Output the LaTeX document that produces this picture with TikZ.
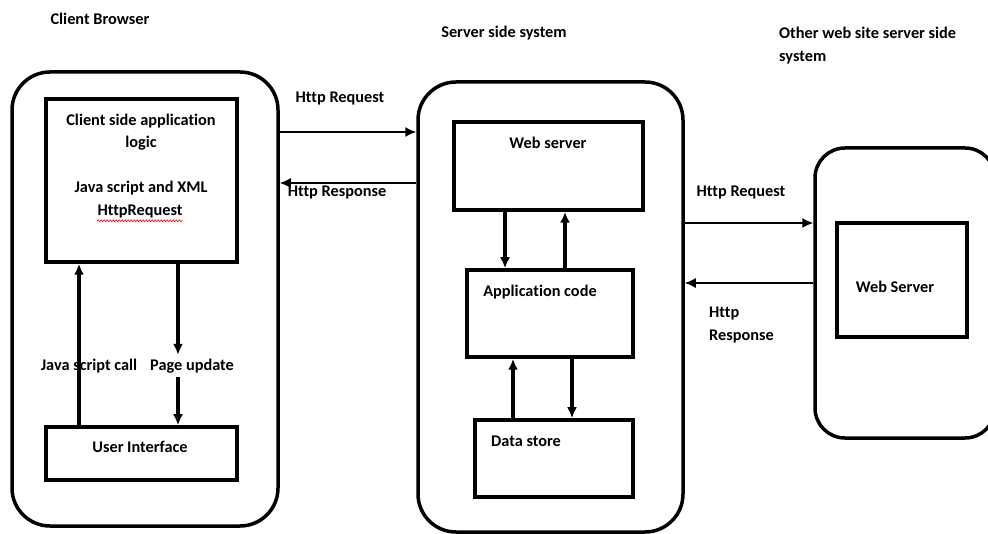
\documentclass[tikz,border=0pt]{standalone}
\usepackage{fontspec}
\setmainfont{Carlito}[Ligatures=CommonOff]
\usepackage{tikz}
\usetikzlibrary{arrows.meta,decorations.pathmorphing}
\tikzstyle{container} = [draw, rectangle, rounded corners=38pt, line width=3.5pt, inner sep=0pt]
\tikzstyle{block} = [draw, fill=white, rectangle, line width=3.5pt, inner sep=0pt]
\tikzstyle{txt} = [inner sep=0pt, align=center, yshift=-1.5pt, font=\fontsize{16.3}{22.5}\selectfont\bfseries]
\tikzstyle{link} = [->, line width=3.5pt]
\tikzstyle{msg} = [->, line width=1.5pt]
\tikzstyle{spell} = [red, line width=0.6pt, decorate, decoration={snake, amplitude=0.9pt, segment length=3pt}]

\begin{document}
\begin{tikzpicture}[x=1pt, y=-1pt, >={Latex[length=11pt,width=10pt]}]
\useasboundingbox (0,0) rectangle (988,534);
% Titles
	\node [txt, anchor=base] (tClient) at (100,23) {Client Browser};
	\node [txt, anchor=base] (tServer) at (504,36) {Server side system};
	\node [txt, anchor=base west, align=left] (tOther) at (779,60) {Other web site server side\\system};
% Client browser
	\node [container, minimum width=266pt, minimum height=454pt] (CB) at (145,299) {};
	\node [block, minimum width=191pt, minimum height=163pt] (L) at (141.5,180.5) {};
	\node [txt, anchor=base] (Ltext) at (141,191) {Client side application\\logic\\[22pt]Java script and XML};
	\node [txt, anchor=base] (hr) at (140,214) {HttpRequest};
	\draw [spell] ([yshift=-2.5pt]hr.south west) -- ([yshift=-2.5pt]hr.south east);
	\node [block, minimum width=191pt, minimum height=53pt] (UI) at (141.5,453.5) {};
	\node [txt, anchor=base] (UItext) at (140,451) {User Interface};
	\node [txt, anchor=base] (jsc) at (89,369) {Java script call};
	\node [txt, anchor=base, inner sep=4pt] (pu) at (192,369) {Page update};
	\draw [link] ([xshift=-62.5pt]UI.north) -- ([xshift=-62.5pt]UI.north |- L.south);
	\draw [link] ([xshift=36.5pt]L.south) -- ([xshift=36.5pt]L.south |- pu.north);
	\draw [link] ([xshift=36.5pt]L.south |- pu.south) -- ([xshift=36.5pt]UI.north);
% Server side system
	\node [container, minimum width=265pt, minimum height=450pt] (SS) at (550.5,307) {};
	\node [block, minimum width=189pt, minimum height=88pt] (WS) at (548.5,166) {};
	\node [txt, anchor=base] (WStext) at (548,147) {Web server};
	\node [block, minimum width=166pt, minimum height=87pt] (AC) at (550,313.5) {};
	\node [txt, anchor=base] (ACtext) at (540,295) {Application code};
	\node [block, minimum width=158pt, minimum height=77pt] (DS) at (554,458.5) {};
	\node [txt, anchor=base] (DStext) at (526,445) {Data store};
	\draw [link] ([xshift=-43.5pt]WS.south) -- ([xshift=-43.5pt]WS.south |- AC.north);
	\draw [link] ([xshift=16.5pt]WS.south |- AC.north) -- ([xshift=16.5pt]WS.south);
	\draw [link] ([xshift=-41pt]DS.north) -- ([xshift=-41pt]DS.north |- AC.south);
	\draw [link] ([xshift=18pt]DS.north |- AC.south) -- ([xshift=18pt]DS.north);
% Other web site server side system
	\node [container, rounded corners=30pt, minimum width=180pt, minimum height=290pt] (OS) at (905,293) {};
	\node [block, minimum width=130pt, minimum height=114pt] (OW) at (902,280) {};
	\node [txt, anchor=base] (OWtext) at (895,291) {Web Server};
% Http messages
	\coordinate (req1) at (0,132);
	\coordinate (res1) at (0,183);
	\coordinate (req2) at (0,223);
	\coordinate (res2) at (0,283);
	\draw [msg] (CB.east |- req1) -- (SS.west |- req1);
	\draw [msg] (SS.west |- res1) -- (CB.east |- res1);
	\draw [msg] (SS.east |- req2) -- (OS.west |- req2);
	\draw [msg] (OS.west |- res2) -- (SS.east |- res2);
	\node [txt, anchor=base] (lreq1) at (340,101) {Http Request};
	\node [txt, anchor=base] (lres1) at (337,195) {Http Response};
	\node [txt, anchor=base] (lreq2) at (741,195) {Http Request};
	\node [txt, anchor=base west, align=left] (lres2) at (709,339) {Http\\Response};
\end{tikzpicture}
\end{document}
